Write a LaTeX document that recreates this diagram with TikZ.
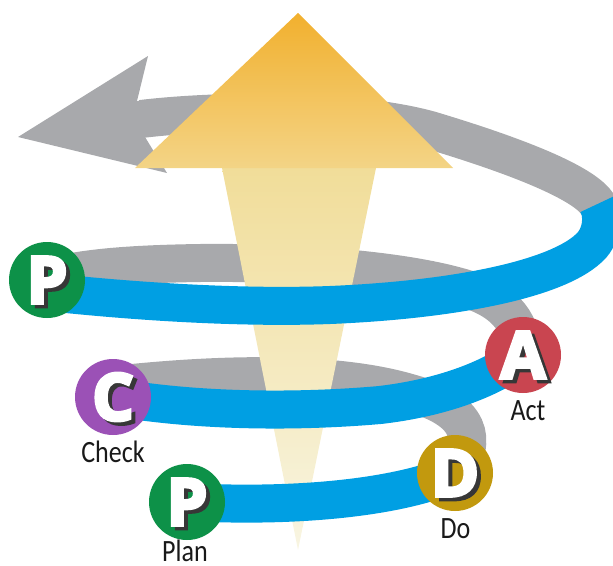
\documentclass[tikz,border=0pt]{standalone}
\usepackage{fontspec}
\usetikzlibrary{calc}
\newfontfamily\bigletter{Open Sans}[BoldFeatures={FakeBold=5}]
\newfontfamily\labelfont{Carlito}[FakeStretch=0.84]
\definecolor{bandblue}{RGB}{0,159,227}
\definecolor{bandgray}{RGB}{168,169,172}
\definecolor{pgreen}{RGB}{13,145,72}
\definecolor{cpurple}{RGB}{155,81,182}
\definecolor{ared}{RGB}{201,69,80}
\definecolor{dgold}{RGB}{194,153,14}
\definecolor{shadowc}{RGB}{55,55,55}
\definecolor{labelc}{RGB}{25,25,25}
\definecolor{headtop}{RGB}{242,176,46}
\definecolor{headbot}{RGB}{243,212,134}
\definecolor{shafttop}{RGB}{241,221,153}
\definecolor{shaftbot}{RGB}{248,245,226}
\newcommand\shletter[1]{\rlap{\smash{\kern4pt\raisebox{-3.5pt}{\textcolor{shadowc}{#1}}}}#1}
\begin{document}
\begin{tikzpicture}[x=1pt,y=-1pt,
  band/.style={line width=38pt, line cap=butt},
  blueband/.style={band, draw=bandblue},
  grayband/.style={band, draw=bandgray},
  disc/.style={circle, inner sep=0pt, minimum size=76pt, text=white,
    font=\bigletter\bfseries\fontsize{65}{65}\selectfont},
  caption/.style={font=\labelfont\fontsize{31}{31}\selectfont, text=labelc,
    anchor=base, inner sep=0pt}]
\useasboundingbox (0,0) rectangle (613,565);
\clip (0,0) rectangle (613,565);
% centres
\coordinate (pP2) at (47,280);
\coordinate (pC) at (113,397);
\coordinate (pP1) at (187,502);
\coordinate (pA) at (523,355);
\coordinate (pD) at (455,473);
\coordinate (J) at (597.5,204);
\coordinate (notch) at (141,119);
% back (gray) bands
\draw[grayband] ($(J)+(1,1.7)$) -- (J) .. controls (585,185) and (530,160) .. (430,130)
   .. controls (350,108) and (215,110) .. (notch);
\fill[bandgray] (18,137) -- (148,56) -- (137,101) -- (155,101) -- (155,136)
   -- (145,137) -- (167,173) -- cycle;
\draw[grayband] (pA) .. controls (522,318) and (500,298) .. (460,287)
   .. controls (400,270) and (300,262) .. (200,263)
   .. controls (130,264) and (80,268) .. ($(pP2)+(0,-2)$);
\draw[grayband] (pD) .. controls (478,440) and (472,410) .. (410,393)
   .. controls (350,375) and (250,370) .. ($(pC)+(0,-12)$);
% upward arrow: shaft and head
\shade[top color=shafttop, bottom color=shaftbot]
   (222,168) -- (376,168) -- (298,550) -- cycle;
\shade[top color=headtop, bottom color=headbot]
   (298,13) -- (453,168) -- (135,168) -- cycle;
% front (blue) bands
\draw[blueband] (pP1) .. controls (300,508) and (400,497) .. (pD);
\draw[blueband] (pC) .. controls (200,412) and (300,412) .. (380,405)
   .. controls (440,398) and (490,380) .. (pA);
\draw[blueband] ($(pP2)+(0,12)$) .. controls (150,303) and (250,308) .. (330,305)
   .. controls (450,300) and (560,280) .. (592,245)
   .. controls (603,232) and (603,213) .. (J);
% discs
\node[disc, fill=pgreen] (P2) at (pP2) {\shletter{P}};
\node[disc, fill=cpurple] (C) at (pC) {\shletter{C}};
\node[disc, fill=pgreen] (P1) at (pP1) {\shletter{P}};
\node[disc, fill=ared] (A) at (pA) {\shletter{A}};
\node[disc, fill=dgold] (D) at (pD) {\shletter{D}};
% captions
\node[caption] (actl) at (528,420) {Act};
\node[caption] (checkl) at (113,462) {Check};
\node[caption] (dol) at (455.5,538) {Do};
\node[caption] (planl) at (185,561) {Plan};
\end{tikzpicture}
\end{document}
